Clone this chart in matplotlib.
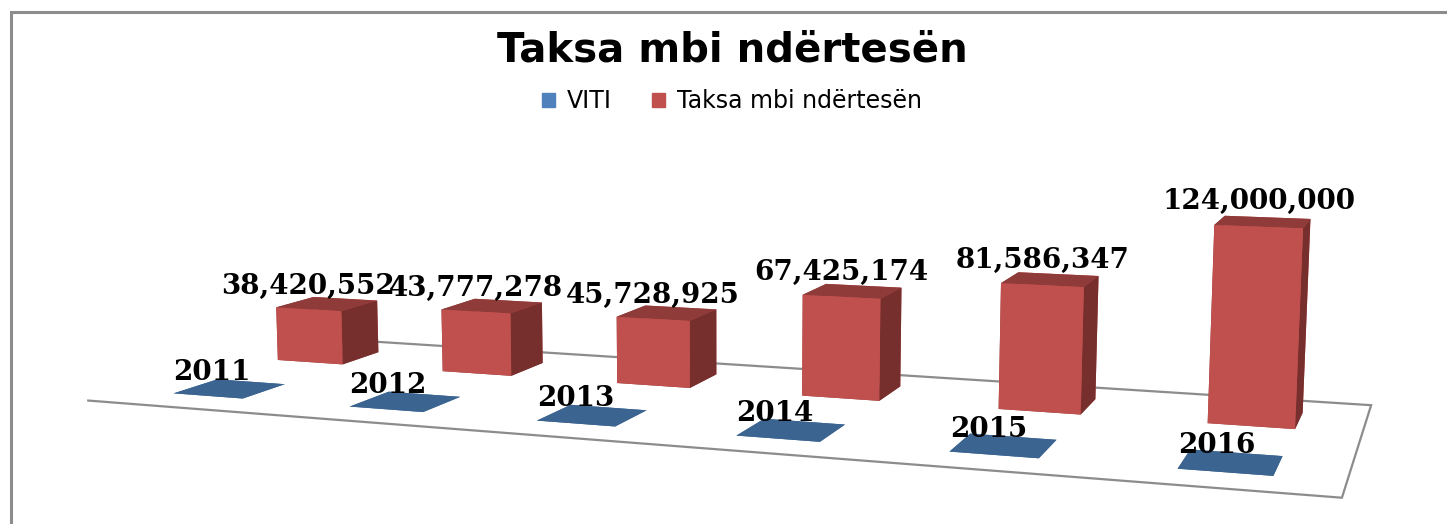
import numpy as np
import matplotlib.pyplot as plt
from matplotlib.patches import Rectangle, Patch

# chart data
years = ['2011', '2012', '2013', '2014', '2015', '2016']
viti = [2011, 2012, 2013, 2014, 2015, 2016]
taksa = [38420552, 43777278, 45728925, 67425174, 81586347, 124000000]
series_names = ['VITI', 'Taksa mbi ndërtesën']

blue = '#4F81BD'
red = '#C0504D'
# face order of bar3d: bottom, top, front, back, left, right
blue_faces = ['#3C6491', '#3C6491', '#4F81BD', '#4F81BD', '#3C6491', '#2F4F73']
red_faces = ['#8E3B39', '#8E3B39', '#C0504D', '#C0504D', '#8E3B39', '#772F2D']

fig = plt.figure(figsize=(14.47, 5.24), dpi=100)

# chart border (gray frame, cut by the image edges)
fig.add_artist(Rectangle((11 / 1447, -0.1), 1.2, 1.1 - 12 / 524,
                         transform=fig.transFigure, fill=False,
                         edgecolor='#8C8C8C', lw=2.2))

# 3d axes is kept square by mplot3d, so make it as wide as the figure
side = 1447 / 524
ax = fig.add_axes([-0.012, 0.397 - side / 2, 1.0, side], projection='3d')
ax.set_proj_type('persp', focal_length=0.28)
ax.view_init(elev=8.6, azim=-70.5)

n = len(years)
w = 0.4
xpos = np.arange(n)
# front row VITI (y=0), back row Taksa (y=1), drawn in one collection
bx = np.concatenate([xpos - w / 2, xpos - w / 2])
by = np.concatenate([np.full(n, -w / 2), np.full(n, 1 - w / 2)])
bh = np.concatenate([viti, taksa]).astype(float)
cols = blue_faces * n + red_faces * n
bars = ax.bar3d(bx, by, 0, w, w, bh, color=cols, shade=False,
                edgecolor='none', linewidth=0)

ax.set_xlim(-0.5, n - 0.5)
ax.set_ylim(-0.5, 1.5)
ax.set_zlim(0, 140e6)
ax.set_box_aspect((6, 2, 1.06), zoom=0.88)

ax.set_xticks([])
ax.set_yticks([])
ax.set_zticks([])
ax.grid(False)
ax.set_facecolor('none')
for a in (ax.xaxis, ax.yaxis):
    a.set_pane_color((1, 1, 1, 0))
    a.pane.set_edgecolor((1, 1, 1, 0))
ax.zaxis.set_pane_color((1, 1, 1, 1))
ax.zaxis.pane.set_edgecolor('#8C8C8C')
ax.zaxis.pane.set_linewidth(1.6)
for a in (ax.xaxis, ax.yaxis, ax.zaxis):
    a.line.set_color((0, 0, 0, 0))

lab = dict(fontsize=20, fontweight='bold', family='DejaVu Serif', color='black')
for i in range(n):
    # value above the front top edge of the red bar
    ax.text(i, 1 - w / 2, taksa[i] + 11e6, f'{taksa[i]:,}', ha='center',
            va='baseline', **lab)
    # year just above the front left corner of the blue slab
    ax.text(i - w / 2, -w / 2, 9e6, years[i], ha='left', va='baseline', **lab)

fig.text(0.506, 1 - 51 / 524, 'Taksa mbi ndërtesën', ha='center', va='center',
         fontsize=29, fontweight='bold', family='DejaVu Sans')
handles = [Patch(color=blue), Patch(color=red)]
fig.legend(handles, series_names, loc='center', bbox_to_anchor=(0.506, 1 - 101 / 524),
           ncol=2, frameon=False, fontsize=17, handlelength=0.55, handleheight=0.55,
           handletextpad=0.5, columnspacing=1.7)

fig.savefig('out.png', dpi=100)
